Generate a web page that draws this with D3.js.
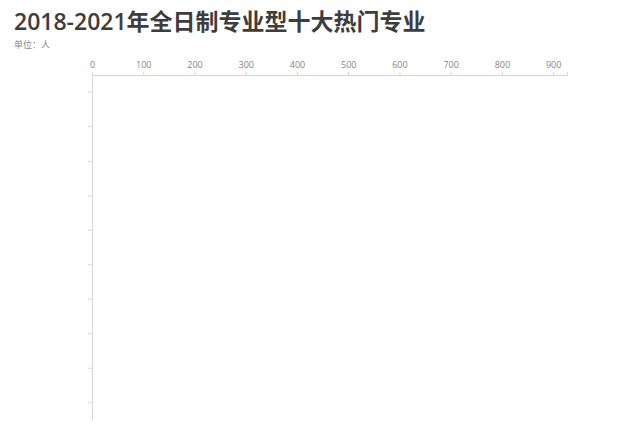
<!DOCTYPE html>
<html>
<head>
<meta charset="utf-8">
<script src="https://cdn.jsdelivr.net/npm/d3@7"></script>
<style>
  html, body { margin: 0; padding: 0; background: #fff; }
  svg { display: block; }
</style>
</head>
<body>
<svg id="chart" width="641" height="434"></svg>
<script>
// Data (the reference frame shows the axes before any bar is drawn)
const title = "2018-2021年全日制专业型十大热门专业";
const subtitle = "单位：人";
const ranks = ["1", "2", "3", "4", "5", "6", "7", "8", "9", "10"];
const values = [0, 0, 0, 0, 0, 0, 0, 0, 0, 0];
const xTicks = [0, 100, 200, 300, 400, 500, 600, 700, 800, 900];
const xMax = 927;

const svg = d3.select("#chart");
const font = "'Open Sans', 'Noto Sans CJK SC', sans-serif";

svg.append("text")
  .attr("x", 14).attr("y", 30)
  .attr("font-family", font)
  .attr("font-size", 23)
  .attr("font-weight", 600)
  .attr("fill", "#3d3d3d")
  .text(title);

svg.append("text")
  .attr("x", 14).attr("y", 48)
  .attr("font-family", font)
  .attr("font-size", 9)
  .attr("fill", "#8a8a8a")
  .text(subtitle);

const margin = { left: 92, top: 75, right: 74, bottom: 14 };
const x = d3.scaleLinear().domain([0, xMax]).range([margin.left, 641 - margin.right]);
const y = d3.scaleBand().domain(ranks).range([margin.top, 434 - margin.bottom]).padding(0);

// bars (zero width in this frame)
svg.append("g").selectAll("rect")
  .data(ranks.map((r, i) => ({ r, v: values[i] })))
  .join("rect")
  .attr("x", x(0))
  .attr("y", d => y(d.r) + y.bandwidth() * 0.15)
  .attr("height", y.bandwidth() * 0.7)
  .attr("width", d => x(d.v) - x(0))
  .attr("fill", "#5b8ff9");

const gx = svg.append("g")
  .attr("transform", `translate(0,${margin.top})`)
  .call(d3.axisTop(x).tickValues(xTicks).tickSize(3).tickPadding(4));
gx.select(".domain").attr("stroke", "#d6d6d6");
gx.selectAll(".tick line").attr("stroke", "#d6d6d6");
gx.selectAll(".tick text")
  .attr("fill", "#858585")
  .attr("font-family", font)
  .attr("font-size", 9);

const gy = svg.append("g")
  .attr("transform", `translate(${margin.left},0)`)
  .call(d3.axisLeft(y).tickSize(4).tickSizeOuter(0).tickFormat(() => ""));
gy.select(".domain").attr("stroke", "#d6d6d6");
gy.selectAll(".tick line").attr("stroke", "#d6d6d6");
</script>
</body>
</html>
